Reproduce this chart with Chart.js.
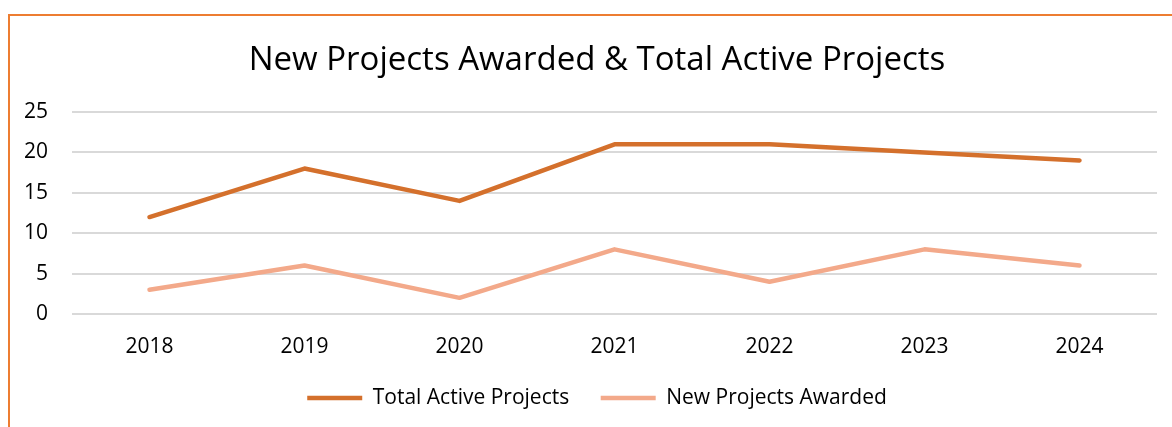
<!DOCTYPE html>
<html>
<head>
<meta charset="utf-8">
<script src="https://cdn.jsdelivr.net/npm/chart.js@4"></script>
<style>
  html, body { margin: 0; padding: 0; background: #fff; overflow: hidden; }
  #wrap { position: relative; width: 1172px; height: 427px; overflow: hidden; }
  #frame {
    position: absolute; left: 8px; top: 14px; width: 1200px; height: 500px;
    border-top: 2px solid #ED7D31; border-left: 2px solid #ED7D31;
    box-sizing: border-box; pointer-events: none;
  }
  canvas { position: absolute; left: 0; top: 0; }
</style>
</head>
<body>
<div id="wrap">
  <div id="frame"></div>
  <canvas id="projectsChart" width="1172" height="427"></canvas>
</div>
<script>
const years = ['2018', '2019', '2020', '2021', '2022', '2023', '2024'];
const totalActive = [12, 18, 14, 21, 21, 20, 19];
const newAwarded = [3, 6, 2, 8, 4, 8, 6];
const yTicks = [0, 5, 10, 15, 20, 25];

const fontFamily = '"Open Sans", "Noto Sans", sans-serif';

const ctx = document.getElementById('projectsChart').getContext('2d');
new Chart(ctx, {
  type: 'line',
  data: {
    labels: years,
    datasets: [{
      label: 'Total Active Projects',
      data: totalActive,
      borderColor: '#D4702C',
      backgroundColor: '#D4702C',
      borderWidth: 4.5,
      borderCapStyle: 'round',
      borderJoinStyle: 'round',
      pointRadius: 0,
      pointStyle: 'line',
      tension: 0
    }, {
      label: 'New Projects Awarded',
      data: newAwarded,
      borderColor: '#F3A98A',
      backgroundColor: '#F3A98A',
      borderWidth: 4.5,
      borderCapStyle: 'round',
      borderJoinStyle: 'round',
      pointRadius: 0,
      pointStyle: 'line',
      tension: 0
    }]
  },
  options: {
    responsive: false,
    animation: false,
    layout: { padding: { left: 22, right: 0, top: 0, bottom: 8.5 } },
    plugins: {
      title: {
        display: true,
        text: 'New Projects Awarded & Total Active Projects',
        color: '#000',
        font: { family: fontFamily, size: 33, weight: 'normal' },
        padding: { top: 41, bottom: 31.4 }
      },
      legend: {
        position: 'bottom',
        labels: {
          usePointStyle: true,
          pointStyleWidth: 55,
          boxWidth: 55,
          boxHeight: 4,
          padding: 31.5,
          color: '#000',
          font: { family: fontFamily, size: 21 }
        }
      },
      tooltip: { enabled: false }
    },
    scales: {
      x: {
        offset: true,
        afterFit: scale => { scale.height = 42; },
        grid: { display: false, drawTicks: false },
        border: { display: false },
        ticks: { color: '#000', padding: 22.5, font: { family: fontFamily, size: 21, lineHeight: 1 } }
      },
      y: {
        min: 0,
        max: 25,
        afterFit: scale => { scale.width = 50; },
        afterBuildTicks: scale => { scale.ticks = yTicks.map(v => ({ value: v })); },
        grid: { color: '#D9D9D9', lineWidth: 2, drawTicks: false },
        border: { display: false },
        ticks: { color: '#000', padding: 24, font: { family: fontFamily, size: 21 } }
      },
      // empty right-hand strip so the title and legend centre like the original frame
      pad: {
        position: 'right',
        afterFit: scale => { scale.width = 15; },
        grid: { display: false, drawTicks: false },
        border: { display: false },
        ticks: { display: false }
      }
    }
  }
});
</script>
</body>
</html>
